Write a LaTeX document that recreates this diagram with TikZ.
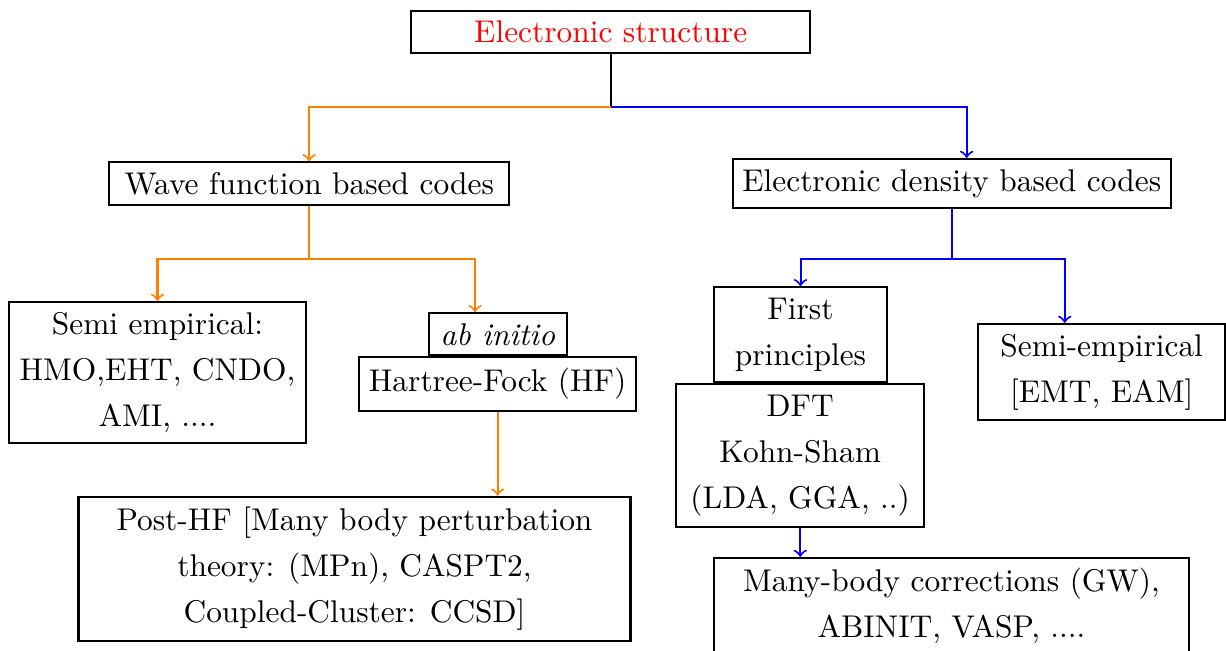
\documentclass[tikz,border=0pt]{standalone}
\begin{document}
\begin{tikzpicture}[
  x=0.3232pt, y=-0.3232pt,
  box/.style={draw, line width=0.7pt, align=center, inner sep=0pt,
    font=\fontsize{10.15}{14.9}\selectfont},
  sz/.style 2 args={minimum width=#1*0.3232pt, minimum height=#2*0.3232pt},
  link/.style={line width=0.65pt},
  tip/.style={link, ->},
]
\useasboundingbox (0,0) rectangle (1226,651);

% top level
\node[box, sz={398.7}{42.6}, text=red] (es) at (610.7,32) {Electronic structure};

% second level
\node[box, sz={399.7}{42.7}] (wf) at (309.2,183.7) {Wave function based codes};
\node[box, sz={438}{49.3}]   (ed) at (951.7,183.7) {Electronic density based codes};

% wave function branch
\node[box, sz={296.4}{141.3}] (se) at (157.5,372.7) {Semi empirical:\\HMO,EHT, CNDO,\\AMI, ....};
\node[box, sz={138}{42}]      (ab) at (497.7,334.3) {\textit{ab initio}};
\node[box, sz={276.7}{53.4}]  (hf) at (497.7,384)   {Hartree-Fock (HF)};
\node[box, sz={552}{144.3}]   (phf) at (354.5,568.9) {Post-HF [Many body perturbation\\theory: (MPn), CASPT2,\\Coupled-Cluster: CCSD]};

% density branch
\node[box, sz={172.4}{94.4}]  (fp)  at (800.5,334.5) {First\\principles};
\node[box, sz={248.3}{143.3}] (dft) at (800.2,455.7) {DFT\\Kohn-Sham\\(LDA, GGA, ..)};
\node[box, sz={246.7}{96}]    (sr)  at (1101.7,372) {Semi-empirical\\{}[EMT, EAM]};
\node[box, sz={475}{96}]      (mb)  at (951.5,606)  {Many-body corrections (GW),\\ABINIT, VASP, ....};

% junction points
\coordinate (j0) at (es.south |- 0,107.3);
\coordinate (j1) at (wf.south |- 0,259);
\coordinate (j2) at (ed.south |- 0,259);

% connectors
\draw[link] (es.south) -- (j0);
\draw[tip, orange] (j0) -| (wf.north);
\draw[tip, blue] (j0) -| ([xshift=4.85pt]ed.north);

\draw[link, orange] (wf.south) -- (j1);
\draw[tip, orange] (j1) -| (se.north);
\draw[tip, orange] (j1) -| ([xshift=-7.34pt]ab.north);
\draw[tip, orange] (hf.south) -- (hf.south |- phf.north);

\draw[link, blue] (ed.south) -- (j2);
\draw[tip, blue] (j2) -| (fp.north);
\draw[tip, blue] (j2) -| ([xshift=-11.94pt]sr.north);
\draw[tip, blue] (dft.south) -- (dft.south |- mb.north);
\end{tikzpicture}
\end{document}
